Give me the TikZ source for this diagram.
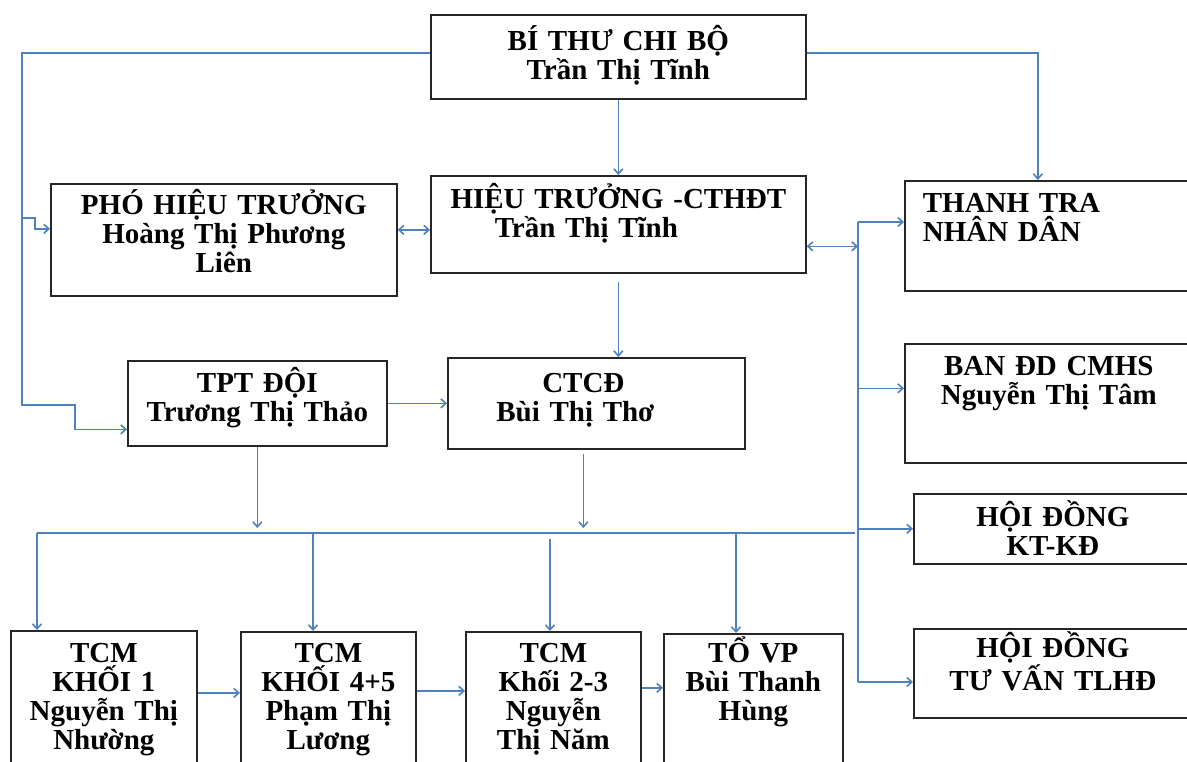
\documentclass[tikz,border=0pt]{standalone}
\usepackage{fontspec}
\setmainfont{Liberation Serif}
\usepackage{xcolor}
\usepackage{tikz}
\usetikzlibrary{positioning,arrows.meta}

\definecolor{linkblue}{RGB}{79,129,189}

\begin{document}
\begin{tikzpicture}[x=1pt, y=-1pt,
    box/.style={draw=black!85, line width=1.7pt, anchor=north west, inner sep=0pt,
        align=center, font=\bfseries\fontsize{29}{29}\selectfont},
    link/.style={linkblue, line width=1.6pt, -{Straight Barb[length=5pt,width=9pt]}},
    dlink/.style={linkblue, line width=1.6pt, {Straight Barb[length=5pt,width=9pt]}-{Straight Barb[length=5pt,width=9pt]}},
    bus/.style={linkblue, line width=1.6pt}]
\useasboundingbox (0,0) rectangle (1187,762);
\clip (0,0) rectangle (1187,762);
\fill[white] (0,0) rectangle (1187,762);

\node[box, text width=375pt, text height=36pt, text depth=48pt] (bi_thu) at (430,14) {BÍ THƯ CHI BỘ\\Trần Thị Tĩnh};
\node[box, text width=375pt, text height=33pt, text depth=64pt] (hieu_truong) at (430,175) {HIỆU TRƯỞNG -CTHĐT\\\hspace*{-64pt}Trần Thị Tĩnh};
\node[box, text width=346pt, text height=31pt, text depth=81pt] (pho_ht) at (50,183) {PHÓ HIỆU TRƯỞNG\\Hoàng Thị Phương\\Liên};
\node[box, text width=259pt, text height=32pt, text depth=53pt] (tpt_doi) at (127,360) {TPT ĐỘI\\Trương Thị Thảo};
\node[box, text width=297pt, text height=35pt, text depth=56pt] (ctcd) at (447,357) {\hspace*{-26pt}CTCĐ\\\hspace*{-42pt}Bùi Thị Thơ};

\node[box, align=left, inner xsep=18pt, text width=264pt, text height=32pt, text depth=78pt] (thanh_tra) at (904,180) {THANH TRA\\NHÂN DÂN};
\node[box, text width=288pt, text height=32pt, text depth=87pt] (ban_dd) at (904,343) {BAN ĐD CMHS\\Nguyễn Thị Tâm};
\node[box, text width=278pt, text height=33pt, text depth=37pt] (hd_ktkd) at (913,493) {HỘI ĐỒNG\\KT-KĐ};
\node[box, text width=278pt, text height=29pt, text depth=60pt] (hd_tv) at (913,628) {HỘI ĐỒNG\\TƯ VẤN TLHĐ};

\node[box, text width=186pt, text height=32pt, text depth=118pt] (tcm_1) at (10,630) {TCM\\KHỐI 1\\Nguyễn Thị\\Nhường};
\node[box, text width=175pt, text height=31pt, text depth=119pt] (tcm_45) at (240,631) {TCM\\KHỐI 4+5\\Phạm Thị\\Lương};
\node[box, text width=175pt, text height=31pt, text depth=119pt] (tcm_23) at (465,631) {TCM\\Khối 2-3\\Nguyễn\\Thị Năm};
\node[box, text width=179pt, text height=29pt, text depth=121pt] (to_vp) at (663,633) {TỔ VP\\Bùi Thanh\\Hùng};

\coordinate (left_split) at (22,218);
\coordinate (bus_top) at (858,222);
\coordinate (bus_bot) at (858,682);
\coordinate (drop_1) at (37,533);
\coordinate (drop_2) at (313,533);
\coordinate (drop_3) at (550,533);
\coordinate (drop_4) at (736,533);
\coordinate (drop_end) at (855,533);

\draw[link] ([yshift=4pt]bi_thu.west) -| (22,405) -- (75,405) |- ([yshift=-26pt]tpt_doi.west);
\draw[link] (left_split) -- (35,218) |- ([yshift=11pt]pho_ht.west);
\draw[link] (bi_thu.south) -- (hieu_truong.north);
\draw[link] ([yshift=4pt]bi_thu.east) -| ([xshift=-17pt]thanh_tra.north);

\draw[dlink] ([yshift=10pt]pho_ht.east) -- ([yshift=10pt]pho_ht.east -| hieu_truong.west);
\draw[dlink] ([yshift=-22pt]hieu_truong.east) -- ([yshift=-22pt]hieu_truong.east -| bus_top);

\draw[bus] (bus_top) -- (bus_bot);
\draw[link] (bus_top) -- (bus_top -| thanh_tra.west);
\draw[link] ([yshift=15pt]ban_dd.west -| bus_top) -- ([yshift=15pt]ban_dd.west);
\draw[link] (hd_ktkd.west -| bus_top) -- (hd_ktkd.west);
\draw[link] (bus_bot) -- (bus_bot -| hd_tv.west);

\draw[link] ([yshift=-8pt]hieu_truong.south) -- (hieu_truong.south |- ctcd.north);
\draw[link] (tpt_doi.east) -- (tpt_doi.east -| ctcd.west);
\draw[link] (tpt_doi.south) -- ([yshift=5pt]tpt_doi.south |- drop_1);
\draw[link] ([xshift=-13pt,yshift=-4pt]ctcd.south) -- ([xshift=-13pt,yshift=5pt]ctcd.south |- drop_1);

\draw[bus] (drop_1) -- (drop_end);
\draw[link] (drop_1) -- (drop_1 |- tcm_1.north);
\draw[link] (drop_2) -- (drop_2 |- tcm_45.north);
\draw[link] ([yshift=-6pt]drop_3) -- (drop_3 |- tcm_23.north);
\draw[link] (drop_4) -- (drop_4 |- to_vp.north);

\draw[link] ([yshift=13pt]tcm_1.east) -- ([yshift=13pt]tcm_1.east -| tcm_45.west);
\draw[link] ([yshift=16pt]tcm_45.east) -- ([yshift=16pt]tcm_45.east -| tcm_23.west);
\draw[link] ([yshift=19pt]tcm_23.east) -- ([yshift=19pt]tcm_23.east -| to_vp.west);
\end{tikzpicture}
\end{document}
